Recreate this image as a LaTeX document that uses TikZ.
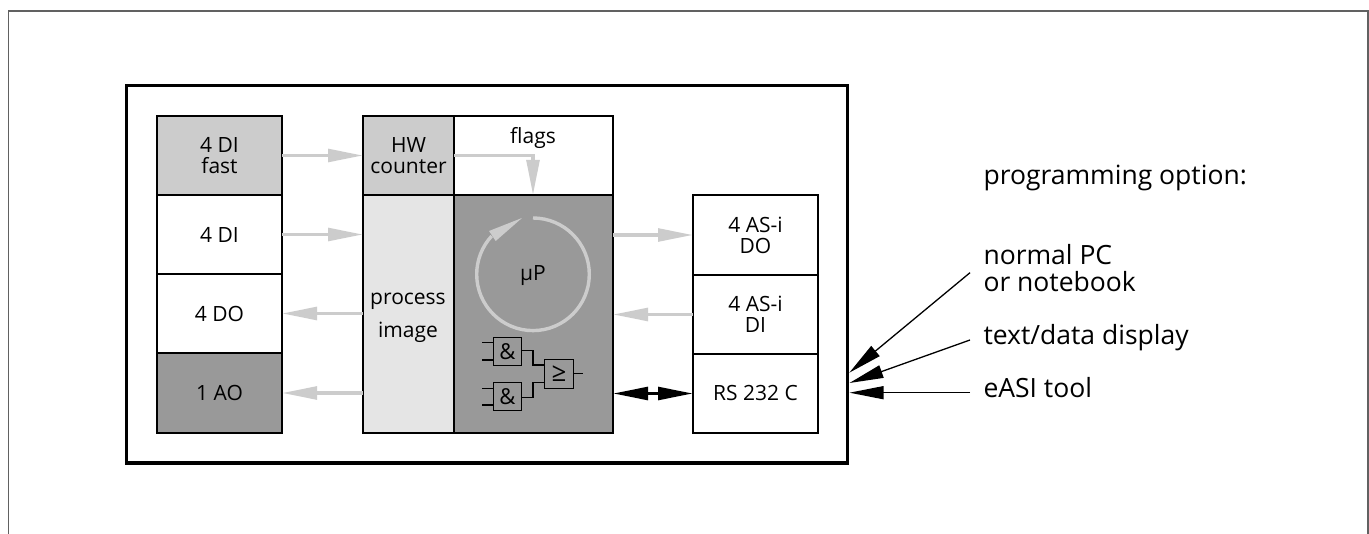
\documentclass[tikz,border=0pt]{standalone}
\usepackage{fontspec}
\setmainfont{Open Sans}
\usetikzlibrary{arrows.meta}
\definecolor{lightg}{gray}{0.8}
\definecolor{paleg}{gray}{0.9}
\definecolor{darkg}{gray}{0.6}
\tikzset{
  every node/.style={outer sep=0pt},
  cell/.style={draw=black,line width=1.3pt,inner sep=0pt,align=center,font=\fontsize{21}{21}\selectfont},
  lbl/.style={inner sep=0pt,anchor=base,font=\fontsize{21}{21}\selectfont},
  gate/.style={draw=black,line width=1.2pt,inner sep=0pt,align=center,minimum width=28.5pt,minimum height=28.5pt,font=\fontsize{22}{22}\selectfont},
  wire/.style={draw=black,line width=1.2pt},
  flow/.style={draw=lightg,line width=3.4pt,-{Triangle[length=35pt,width=12.7pt,fill=lightg,color=lightg]}},
  ptr/.style={draw=black,line width=1.3pt,-{Triangle[length=34pt,width=13pt,fill=black]}},
  note/.style={anchor=base west,inner sep=0pt,font=\fontsize{26.5}{27}\selectfont}
}
\newcommand{\cellbox}[7]{% name, x0,y0,x1,y1, fill, text
  \node[cell,fill=#6,minimum width=#4pt-#2pt,minimum height=#5pt-#3pt,anchor=north west] (#1) at (#2,#3) {#7};
}
\begin{document}
\begin{tikzpicture}[x=1pt,y=-1pt]
\useasboundingbox (0,0) rectangle (1369,534);
\fill[white] (0,0) rectangle (1369,534);
\coordinate (fa) at (8.2,534); \coordinate (fb) at (8.2,11); \coordinate (fc) at (1368,11); \coordinate (fd) at (1368,534);
\draw[line width=1.3pt,draw=black!62] (fa) -- (fb) -- (fc) -- (fd);
\node[draw=black,line width=3.4pt,minimum width=721pt,minimum height=377.5pt,anchor=north west,inner sep=0pt] (outer) at (126.7,85.7) {};

\cellbox{difast}{157}{116}{282}{195}{lightg}{4 DI\\fast}
\cellbox{di}{157}{195}{282}{274}{white}{4 DI}
\cellbox{do}{157}{274}{282}{353}{white}{4 DO}
\cellbox{ao}{157}{353}{282}{433}{darkg}{1 AO}

\cellbox{hw}{363}{116}{454}{195}{lightg}{HW\\counter}
\cellbox{flags}{454}{116}{613}{195}{white}{}
\cellbox{pi}{363}{195}{454}{433}{paleg}{}
\cellbox{cpu}{454}{195}{613}{433}{darkg}{}
\node[lbl] (flagst) at (533,144) {flags};
\node[lbl] (proc) at (408,305) {process};
\node[lbl] (imag) at (408,338) {image};
\node[lbl] (up) at (533,281) {µP};

\cellbox{ado}{693}{195}{818}{275}{white}{4 AS-i\\DO}
\cellbox{adi}{693}{275}{818}{354}{white}{4 AS-i\\DI}
\cellbox{rs}{693}{354}{818}{433}{white}{RS 232 C}

% flows
\draw[flow] (difast.east |- 0,155.5) -- (hw.west |- 0,155.5);
\draw[flow] (di.east) -- (pi.west |- di.east);
\draw[flow] (pi.west |- do.east) -- (do.east);
\draw[flow] (pi.west |- ao.east) -- (ao.east);
\draw[flow] (cpu.east |- ado.east) -- (ado.west);
\draw[flow] (adi.west) -- (cpu.east |- adi.west);
\coordinate (fl1) at (454,155.7);
\coordinate (fl2) at (533,155.7);
\draw[flow] (fl1) -- (fl2) -- (flags.south -| fl2);
% cycle
\draw[draw=lightg,line width=3.4pt] (533,218) arc[start angle=-90,end angle=222.8,radius=56.3];
\fill[lightg] (522,218) -- (489,231) -- (495.7,241) -- cycle;
% gates
\node[gate] (g1) at (507.5,351.5) {\&};
\node[gate] (g2) at (507.5,396.5) {\&};
\node[gate,font=\fontsize{26}{26}\selectfont] (g3) at (559,374) {≥};
\coordinate (a1) at (482,342.7); \coordinate (a2) at (482,360);
\coordinate (a3) at (482,388.3); \coordinate (a4) at (482,405);
\coordinate (o) at (583,373.7);
\draw[wire] (a1) -- (g1.west |- a1);
\draw[wire] (a2) -- (g1.west |- a2);
\draw[wire] (a3) -- (g2.west |- a3);
\draw[wire] (a4) -- (g2.west |- a4);
\draw[wire] (g1.east |- 0,350.7) -- (533,350.7) -- (533,365) -- (g3.west |- 0,365);
\draw[wire] (g2.east |- 0,397.3) -- (533,397.3) -- (533,382.3) -- (g3.west |- 0,382.3);
\draw[wire] (g3.east |- o) -- (o);
% bidirectional
\draw[draw=black,line width=3.4pt,{Triangle[length=35pt,width=12.7pt,fill=black]}-{Triangle[length=35pt,width=12.7pt,fill=black]}] (cpu.east |- rs.west) -- (rs.west);
% notes
\node[note] (n0) at (983.5,185) {programming option:};
\node[note] (n1a) at (983.5,265) {normal PC};
\node[note] (n1b) at (983.5,292) {or notebook};
\node[note] (n2) at (983.5,345) {text/data display};
\node[note] (n3) at (983.5,397.7) {eASI tool};
\coordinate (t1) at (849.3,372.7);
\coordinate (t2) at (849.5,383);
\coordinate (t3) at (849.5,392.7);
\coordinate (s1) at (970,272.7);
\coordinate (s2) at (970,340);
\coordinate (s3) at (970,392.7);
\draw[ptr] (s1) -- (t1);
\draw[ptr] (s2) -- (t2);
\draw[ptr] (s3) -- (t3);
\end{tikzpicture}
\end{document}
